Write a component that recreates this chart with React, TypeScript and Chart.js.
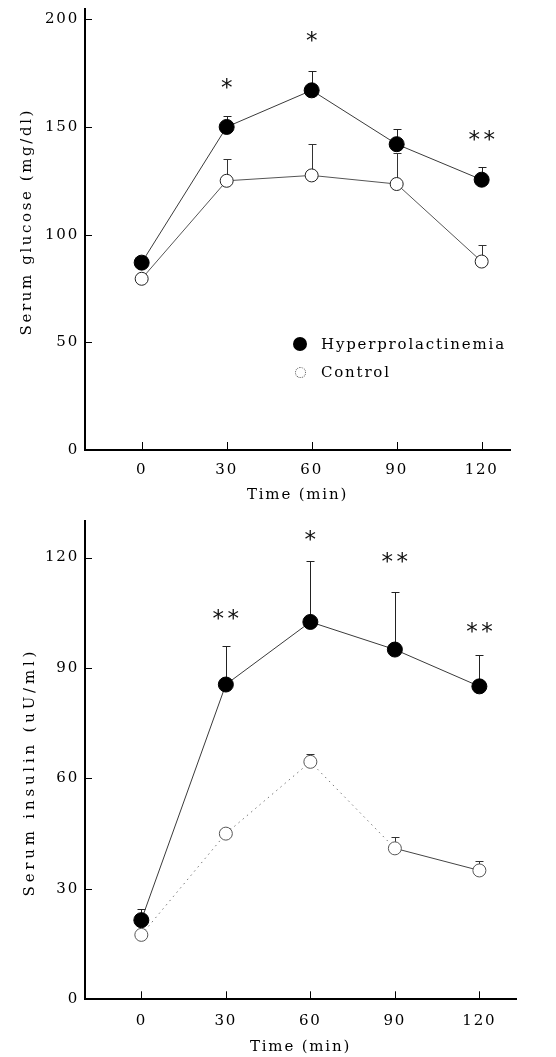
import React, { useEffect, useRef } from "react";
import { Chart, registerables } from "chart.js";
Chart.register(...registerables);

const FONT = "'DejaVu Serif', serif";
const SPACING = "1.8px";

const times = [0, 30, 60, 90, 120];
const seriesLabels = ["Hyperprolactinemia", "Control"];

const glucoseHyper = [87, 150, 167, 142, 125.5];
const glucoseHyperErr = [3, 5, 9, 7, 6];
const glucoseControl = [79.5, 125, 127.5, 123.5, 87.5];
const glucoseControlErr = [2, 10, 14.5, 14.5, 7.5];
const glucoseStars = ["", "*", "*", "", "**"];
const glucoseStarLevel = [0, 170, 192, 0, 146];
const glucoseTicks = [0, 50, 100, 150, 200];

const insulinHyper = [21.5, 85.5, 102.5, 95, 85];
const insulinHyperErr = [3, 10.5, 16.5, 15.5, 8.5];
const insulinControl = [17.5, 45, 64.5, 41, 35];
const insulinControlErr = [1, 1.5, 2, 3, 2.5];
const insulinStars = ["", "**", "*", "**", "**"];
const insulinStarLevel = [0, 104.5, 126, 120, 101];
const insulinTicks = [0, 30, 60, 90, 120];

const spacingPlugin = {
  id: "spacing",
  beforeLayout(chart: any) {
    (chart.ctx as any).letterSpacing = SPACING;
  },
  beforeDraw(chart: any) {
    (chart.ctx as any).letterSpacing = SPACING;
  },
};

const yTitlePlugin = {
  id: "yTitle",
  afterDraw(chart: any, _a: any, opts: any) {
    if (!opts || !opts.text) return;
    const { ctx } = chart;
    ctx.save();
    (ctx as any).letterSpacing = opts.spacing + "px";
    ctx.font = `${opts.size}px ${FONT}`;
    ctx.fillStyle = "#000";
    ctx.textAlign = "center";
    ctx.textBaseline = "middle";
    ctx.translate(opts.x, opts.y);
    ctx.rotate(-Math.PI / 2);
    ctx.fillText(opts.text, opts.spacing / 2, 0);
    ctx.restore();
  },
};

const errorBars = {
  id: "errorBars",
  beforeDatasetsDraw(chart: any) {
    const { ctx } = chart;
    const x = chart.scales.x;
    const y = chart.scales.y;
    chart.data.datasets.forEach((ds: any) => {
      if (!ds.errors) return;
      ctx.save();
      ctx.strokeStyle = ds.errorColor || "#000";
      ctx.lineWidth = 1;
      ds.data.forEach((p: any, i: number) => {
        const e = ds.errors[i];
        if (!e) return;
        const px = Math.round(x.getPixelForValue(p.x)) + 0.5;
        const py = y.getPixelForValue(p.y);
        const pt = Math.round(y.getPixelForValue(p.y + e)) + 0.5;
        ctx.beginPath();
        ctx.moveTo(px, py);
        ctx.lineTo(px, pt);
        ctx.moveTo(px - 4, pt);
        ctx.lineTo(px + 4, pt);
        ctx.stroke();
      });
      ctx.restore();
    });
  },
};

const starMarks = {
  id: "starMarks",
  afterDatasetsDraw(chart: any, _a: any, opts: any) {
    if (!opts || !opts.marks) return;
    const { ctx } = chart;
    const x = chart.scales.x;
    const y = chart.scales.y;
    ctx.save();
    (ctx as any).letterSpacing = "0px";
    ctx.fillStyle = "#111";
    ctx.font = `${opts.size}px 'DejaVu Sans', sans-serif`;
    ctx.textAlign = "center";
    ctx.textBaseline = "alphabetic";
    const m = ctx.measureText("*");
    const shift = (m.actualBoundingBoxAscent - m.actualBoundingBoxDescent) / 2;
    opts.marks.forEach((s: string, i: number) => {
      if (!s) return;
      const cx = x.getPixelForValue(opts.xs[i]);
      const cy = y.getPixelForValue(opts.levels[i]);
      for (let k = 0; k < s.length; k++) {
        const dx = (k - (s.length - 1) / 2) * opts.gap;
        ctx.fillText("*", cx + dx, cy + shift);
      }
    });
    ctx.restore();
  },
};

const innerTicks = {
  id: "innerTicks",
  afterDraw(chart: any, _a: any, opts: any) {
    const { ctx, chartArea } = chart;
    const x = chart.scales.x;
    const y = chart.scales.y;
    ctx.save();
    ctx.strokeStyle = "#000";
    ctx.lineWidth = 1;
    y.ticks.forEach((t: any) => {
      const py = Math.round(y.getPixelForValue(t.value)) + 0.5;
      ctx.beginPath();
      ctx.moveTo(chartArea.left, py);
      ctx.lineTo(chartArea.left + (opts.ylen || 7), py);
      ctx.stroke();
    });
    x.ticks.forEach((t: any) => {
      const px = Math.round(x.getPixelForValue(t.value)) + 0.5;
      ctx.beginPath();
      ctx.moveTo(px, chartArea.bottom);
      ctx.lineTo(px, chartArea.bottom - (opts.xlen || 8));
      ctx.stroke();
    });
    ctx.restore();
  },
};

type PanelProps = {
  top: number;
  height: number;
  hyper: number[];
  hyperErr: number[];
  control: number[];
  controlErr: number[];
  stars: string[];
  starLevels: number[];
  yTicks: number[];
  yMax: number;
  xMax: number;
  yTitle: string;
  yTitleX: number;
  yTitleY: number;
  yTitleSpacing: number;
  padTop: number;
  padRight: number;
  xHeight: number;
  xTickPad: number;
  xTitlePad: number;
  dotted: boolean;
};

function Panel(p: PanelProps) {
  const ref = useRef<HTMLCanvasElement | null>(null);
  useEffect(() => {
    if (!ref.current) return;
    const tickFont = { family: FONT, size: 15 };
    const chart = new Chart(ref.current, {
      type: "line",
      data: {
        datasets: [
          {
            label: seriesLabels[0],
            data: times.map((t, i) => ({ x: t, y: p.hyper[i] })),
            borderColor: "#3a3a3a",
            borderWidth: 1,
            pointRadius: 7.5,
            pointBackgroundColor: "#000",
            pointBorderColor: "#000",
            pointBorderWidth: 1,
            errors: p.hyperErr,
            errorColor: "#222",
          } as any,
          {
            label: seriesLabels[1],
            data: times.map((t, i) => ({ x: t, y: p.control[i] })),
            borderColor: p.dotted ? "#777" : "#555",
            borderWidth: 1,
            pointRadius: 6.5,
            pointBackgroundColor: "#fff",
            pointBorderColor: p.dotted ? "#555" : "#222",
            pointBorderWidth: 1,
            errors: p.controlErr,
            errorColor: "#333",
            segment: p.dotted
              ? {
                  borderDash: (c: any) => (c.p1DataIndex <= 3 ? [1.5, 4] : undefined),
                  borderColor: (c: any) => (c.p1DataIndex <= 3 ? "#777" : "#444"),
                }
              : undefined,
          } as any,
        ],
      },
      options: {
        animation: false,
        responsive: false,
        events: [],
        layout: { padding: { top: p.padTop, right: p.padRight, left: 0, bottom: 0 } },
        scales: {
          x: {
            type: "linear",
            min: -20,
            max: p.xMax,
            afterBuildTicks: (s: any) => {
              s.ticks = times.map((v) => ({ value: v }));
            },
            afterFit: (s: any) => {
              s.height = p.xHeight;
              s.paddingLeft = 0;
              s.paddingRight = 0;
              s.paddingTop = 0;
              s.paddingBottom = 0;
            },
            grid: { display: false, drawTicks: false },
            border: { display: true, color: "#000", width: 2 },
            ticks: { font: tickFont, color: "#000", padding: p.xTickPad, maxRotation: 0 },
            title: {
              display: true,
              text: "Time (min)",
              font: tickFont,
              color: "#000",
              padding: { top: 0, bottom: p.xTitlePad },
            },
          },
          y: {
            type: "linear",
            min: 0,
            max: p.yMax,
            afterBuildTicks: (s: any) => {
              s.ticks = p.yTicks.map((v) => ({ value: v }));
            },
            afterFit: (s: any) => {
              s.width = 85;
              s.paddingLeft = 0;
              s.paddingRight = 0;
              s.paddingTop = 0;
              s.paddingBottom = 0;
            },
            grid: { display: false, drawTicks: false },
            border: { display: true, color: "#000", width: 2 },
            ticks: { font: tickFont, color: "#000", padding: 6 },
            title: { display: false },
          },
        },
        plugins: {
          legend: { display: false },
          tooltip: { enabled: false },
          starMarks: { marks: p.stars, levels: p.starLevels, xs: times, size: 23, gap: 15 },
          innerTicks: { ylen: 7, xlen: 8 },
          yTitle: { text: p.yTitle, x: p.yTitleX, y: p.yTitleY, size: 15, spacing: p.yTitleSpacing },
        } as any,
      },
      plugins: [spacingPlugin, errorBars, starMarks, innerTicks, yTitlePlugin],
    } as any);
    return () => chart.destroy();
  }, []);
  return (
    <canvas
      ref={ref}
      width={556}
      height={p.height}
      style={{ position: "absolute", left: 0, top: p.top, display: "block" }}
    />
  );
}

export default function App() {
  const textStyle: React.CSSProperties = {
    position: "absolute",
    fontFamily: FONT,
    fontSize: "15px",
    lineHeight: "21px",
    letterSpacing: SPACING,
    color: "#000",
    whiteSpace: "nowrap",
  };
  return (
    <div style={{ position: "absolute", left: 0, top: 0, width: 556, height: 1057, background: "#fff" }}>
      <Panel
        top={0}
        height={510}
        hyper={glucoseHyper}
        hyperErr={glucoseHyperErr}
        control={glucoseControl}
        controlErr={glucoseControlErr}
        stars={glucoseStars}
        starLevels={glucoseStarLevel}
        yTicks={glucoseTicks}
        yMax={205}
        xMax={130}
        yTitle="Serum glucose (mg/dl)"
        yTitleX={27.5}
        yTitleY={223}
        yTitleSpacing={2.6}
        padTop={5}
        padRight={46}
        xHeight={60}
        xTickPad={11}
        xTitlePad={5.5}
        dotted={false}
      />
      <Panel
        top={510}
        height={547}
        hyper={insulinHyper}
        hyperErr={insulinHyperErr}
        control={insulinControl}
        controlErr={insulinControlErr}
        stars={insulinStars}
        starLevels={insulinStarLevel}
        yTicks={insulinTicks}
        yMax={130}
        xMax={133}
        yTitle="Serum insulin (uU/ml)"
        yTitleX={30}
        yTitleY={264}
        yTitleSpacing={3.8}
        padTop={10.7}
        padRight={40}
        xHeight={57.7}
        xTickPad={12.7}
        xTitlePad={0.5}
        dotted={true}
      />
      <div
        style={{
          position: "absolute",
          left: 293,
          top: 337,
          width: 14,
          height: 14,
          borderRadius: "50%",
          background: "#000",
        }}
      />
      <div style={{ ...textStyle, left: 321, top: 333.5 }}>{seriesLabels[0]}</div>
      <div
        style={{
          position: "absolute",
          left: 294.5,
          top: 366.5,
          width: 9,
          height: 9,
          borderRadius: "50%",
          border: "1px dotted #555",
          background: "#fff",
        }}
      />
      <div style={{ ...textStyle, left: 321, top: 361.5 }}>{seriesLabels[1]}</div>
    </div>
  );
}
